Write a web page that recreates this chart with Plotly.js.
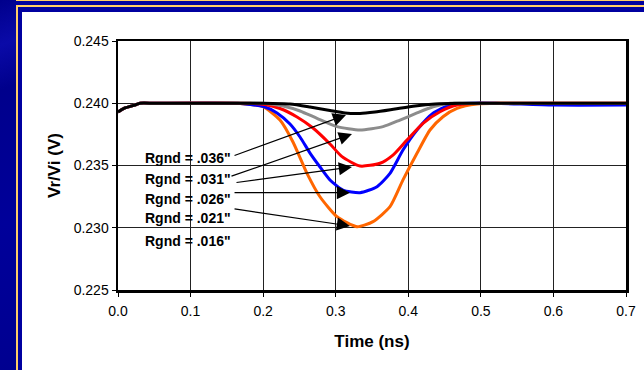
<!DOCTYPE html>
<html>
<head>
<meta charset="utf-8">
<script src="https://cdn.plot.ly/plotly-3.0.1.min.js"></script>
<style>
  html, body { margin: 0; padding: 0; width: 644px; height: 370px; overflow: hidden; background: #0000A0; }
  .strip { position: absolute; left: 0; top: 0; width: 16px; height: 370px;
           background: linear-gradient(160deg, #00008C 0%, #0A0AA8 12%, #00008C 24%, #00009A 60%, #000090 100%); }
  .gold { position: absolute; background: #FFCC66; }
  #chart { position: absolute; left: 22px; top: 12px; width: 622px; height: 358px; background: #fff; }
</style>
</head>
<body>
<div class="strip"></div>
<div class="gold" style="left:16px; top:0; width:628px; height:1px;"></div>
<div class="gold" style="left:16px; top:5px; width:628px; height:2px;"></div>
<div class="gold" style="left:16px; top:5px; width:2px; height:365px;"></div>
<div id="chart"></div>
<script>
// Reflected voltage ratio Vr/Vi versus time for five ground-via radii
const tBlack  = [0, 0.0096, 0.0234, 0.0303, 0.05, 0.1998, 0.2370, 0.2646, 0.2921, 0.3128, 0.3335, 0.3541, 0.3817, 0.4093, 0.4368, 0.4713, 0.50, 0.70];
const vBlack  = [0.2393, 0.23962, 0.23986, 0.2400, 0.2400, 0.2400, 0.23994, 0.23970, 0.23942, 0.23922, 0.23918, 0.23930, 0.23954, 0.23978, 0.23994, 0.2400, 0.2400, 0.2400];

const tGray   = [0, 0.0096, 0.0234, 0.0303, 0.05, 0.1998, 0.2274, 0.2508, 0.2742, 0.3018, 0.3335, 0.3652, 0.3886, 0.4120, 0.4341, 0.4575, 0.48, 0.70];
const vGray   = [0.2393, 0.23962, 0.23986, 0.2400, 0.2400, 0.2400, 0.23978, 0.23938, 0.23879, 0.23812, 0.23785, 0.23812, 0.23865, 0.23922, 0.23972, 0.2400, 0.2400, 0.2400];

const tRed    = [0, 0.0096, 0.0234, 0.0303, 0.05, 0.1819, 0.2026, 0.2232, 0.2467, 0.2687, 0.2921, 0.3087, 0.3335, 0.3610, 0.3789, 0.3982, 0.4203, 0.4437, 0.4671, 0.4988, 0.52, 0.70];
const vRed    = [0.2393, 0.23962, 0.23986, 0.2400, 0.2400, 0.2400, 0.23990, 0.23958, 0.23890, 0.23801, 0.23673, 0.23571, 0.23496, 0.23518, 0.23584, 0.23705, 0.23839, 0.23932, 0.23986, 0.2400, 0.2400, 0.2400];

const tBlue   = [0, 0.0096, 0.0234, 0.0303, 0.05, 0.1650, 0.1819, 0.2026, 0.2191, 0.2370, 0.2508, 0.2646, 0.2784, 0.2921, 0.3100, 0.3335, 0.3569, 0.3748, 0.3927, 0.4120, 0.4341, 0.4575, 0.4851, 0.52, 0.60, 0.70];
const vBlue   = [0.2393, 0.23962, 0.23986, 0.2400, 0.2400, 0.2400, 0.23990, 0.23970, 0.23922, 0.23833, 0.23729, 0.23600, 0.23488, 0.23384, 0.23303, 0.23282, 0.23330, 0.23437, 0.23624, 0.23785, 0.23919, 0.23986, 0.2400, 0.2400, 0.23985, 0.23985];

const tOrange = [0, 0.0096, 0.0234, 0.0303, 0.05, 0.1681, 0.1998, 0.2232, 0.2411, 0.2604, 0.2783, 0.3018, 0.3293, 0.3514, 0.3748, 0.3927, 0.4120, 0.4299, 0.4478, 0.4671, 0.4947, 0.5264, 0.55, 0.70];
const vOrange = [0.2393, 0.23962, 0.23986, 0.2400, 0.2400, 0.23998, 0.23972, 0.23865, 0.23689, 0.23437, 0.23249, 0.23089, 0.23008, 0.23049, 0.23169, 0.23384, 0.23598, 0.23785, 0.23892, 0.23959, 0.23994, 0.2400, 0.2400, 0.2400];

const xTicks = [0, 0.1, 0.2, 0.3, 0.4, 0.5, 0.6, 0.7];
const xTickText = ['0.0', '0.1', '0.2', '0.3', '0.4', '0.5', '0.6', '0.7'];
const yTicks = [0.225, 0.230, 0.235, 0.240, 0.245];
const yTickText = ['0.225', '0.230', '0.235', '0.240', '0.245'];

const rgndLabels = ['Rgnd = .036"', 'Rgnd = .031"', 'Rgnd = .026"', 'Rgnd = .021"', 'Rgnd = .016"'];

// label anchors (data units) and callout arrows: tail -> head
const labelX = 0.0345;
const labelY = [0.23560, 0.23392, 0.23231, 0.23078, 0.22894];
const arrowTail = [[0.1585, 0.23576], [0.1543, 0.23410], [0.1612, 0.23362], [0.1585, 0.23282], [0.1585, 0.23153]];
const arrowHead = [[0.3142, 0.23906], [0.3224, 0.23753], [0.3224, 0.23488], [0.3197, 0.23282], [0.3197, 0.23014]];

const font = 'Liberation Sans, Arial, sans-serif';

function curve(t, v, color) {
  return { x: t, y: v, type: 'scatter', mode: 'lines', hoverinfo: 'skip',
           line: { color: color, width: 3, shape: 'spline', smoothing: 0.6 } };
}

const traces = [
  curve(tOrange, vOrange, '#FF6600'),
  curve(tBlue, vBlue, '#0000FF'),
  curve(tRed, vRed, '#FF0000'),
  curve(tGray, vGray, '#8C8C8C'),
  curve(tBlack, vBlack, '#000000')
];

const annotations = [];
rgndLabels.forEach((txt, i) => {
  annotations.push({ x: labelX, y: labelY[i], xref: 'x', yref: 'y', text: '<b>' + txt + '</b>',
    showarrow: false, xanchor: 'left', yanchor: 'middle',
    font: { family: font, size: 14, color: '#000' } });
});
arrowHead.forEach((h, i) => {
  annotations.push({ x: h[0], y: h[1], xref: 'x', yref: 'y', ax: arrowTail[i][0], ay: arrowTail[i][1],
    axref: 'x', ayref: 'y', text: '', showarrow: true, arrowhead: 2, arrowsize: 2.2,
    arrowwidth: 1.2, arrowcolor: '#000', standoff: 0, startstandoff: 0 });
});

const layout = {
  width: 622, height: 358,
  margin: { l: 96, r: 18, t: 29, b: 80 },
  paper_bgcolor: '#FFFFFF', plot_bgcolor: '#FFFFFF',
  showlegend: false,
  font: { family: font, size: 14, color: '#000' },
  xaxis: {
    range: [0, 0.7], tickvals: xTicks, ticktext: xTickText,
    showgrid: true, gridcolor: '#222', gridwidth: 1,
    zeroline: false, showline: true, linecolor: '#000', linewidth: 2.5, mirror: true,
    ticks: 'outside', ticklen: 4, tickcolor: '#000', tickwidth: 1, ticklabelstandoff: 3,
    tickfont: { family: font, size: 14, color: '#000' },
    title: { text: '<b>Time (ns)</b>', font: { family: font, size: 17, color: '#000' }, standoff: 17 }
  },
  yaxis: {
    range: [0.225, 0.245], tickvals: yTicks, ticktext: yTickText,
    showgrid: true, gridcolor: '#222', gridwidth: 1,
    zeroline: false, showline: true, linecolor: '#000', linewidth: 2.5, mirror: true,
    ticks: 'outside', ticklen: 4, tickcolor: '#000', tickwidth: 1,
    tickfont: { family: font, size: 14, color: '#000' },
    title: { text: '<b>Vr/Vi (V)</b>', font: { family: font, size: 17, color: '#000' }, standoff: 9 }
  },
  annotations: annotations
};

Plotly.newPlot('chart', traces, layout, { displayModeBar: false, staticPlot: true });
</script>
</body>
</html>
